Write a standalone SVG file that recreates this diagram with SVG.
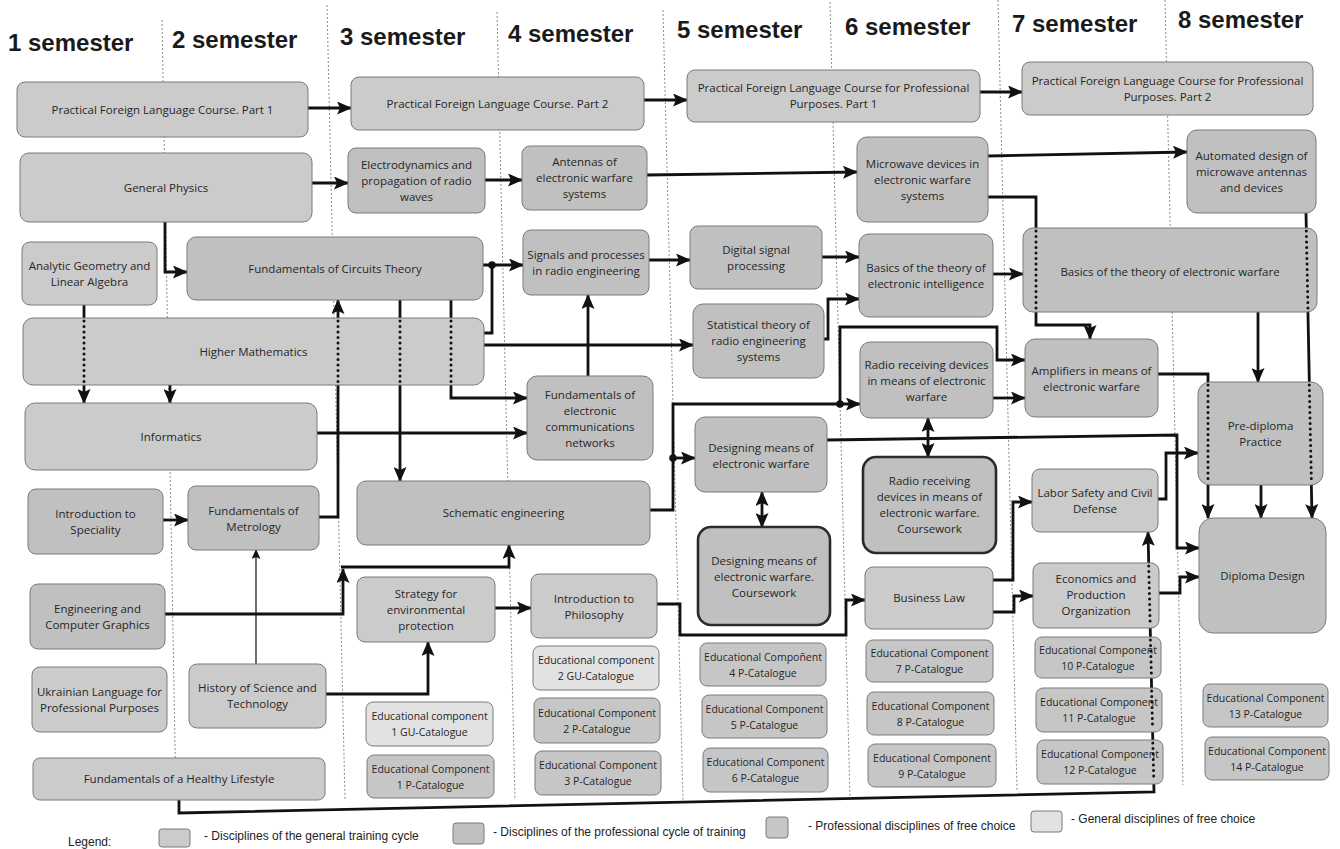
<svg xmlns="http://www.w3.org/2000/svg" width="1340" height="849" viewBox="0 0 1340 849">
<style>
.bx{stroke:#7a7a7a;stroke-width:1}
.g{fill:#cbcbcb}.p{fill:#c0c0c0}.pf{fill:#c6c6c6}.gf{fill:#e2e2e2}
.cw{stroke:#2a2a2a;stroke-width:2.6}
.t{font-family:"Open Sans","Noto Sans",sans-serif;font-size:11.5px;fill:#262626;text-anchor:middle}
.s{font-size:10.5px}
.h{font-family:"Liberation Sans",Arial,sans-serif;font-size:24px;font-weight:bold;fill:#1a1a1a}
.lg{font-family:"Liberation Sans",Arial,sans-serif;font-size:12px;fill:#222}
.c{fill:none;stroke:#111;stroke-width:2.8;stroke-linejoin:miter}
.thin{stroke-width:1.2}
.dt{fill:none;stroke:#111;stroke-width:3;stroke-linecap:round;stroke-dasharray:0 5.5}
.dv{fill:none;stroke:#8a8a8a;stroke-width:1;stroke-dasharray:2 2}
</style>
<defs>
<marker id="a" markerUnits="userSpaceOnUse" markerWidth="15" markerHeight="13" refX="14" refY="6.5" orient="auto">
<path d="M0,0 L15,6.5 L0,13 L3,6.5 z" fill="#111"/>
</marker>
<marker id="as" markerUnits="userSpaceOnUse" markerWidth="15" markerHeight="13" refX="1" refY="6.5" orient="auto">
<path d="M15,0 L0,6.5 L15,13 L12,6.5 z" fill="#111"/>
</marker>
<marker id="at" markerUnits="userSpaceOnUse" markerWidth="10" markerHeight="9" refX="9" refY="4.5" orient="auto">
<path d="M0,0 L10,4.5 L0,9 L2,4.5 z" fill="#111"/>
</marker>
</defs>
<rect width="1340" height="849" fill="#ffffff"/>

<g id="dividers">
<line class="dv" x1="162" y1="20" x2="176" y2="800"/>
<line class="dv" x1="327" y1="5" x2="345" y2="800"/>
<line class="dv" x1="497" y1="12" x2="515" y2="800"/>
<line class="dv" x1="663" y1="10" x2="683" y2="800"/>
<line class="dv" x1="830" y1="2" x2="850" y2="800"/>
<line class="dv" x1="998" y1="0" x2="1017" y2="790"/>
<line class="dv" x1="1165" y1="0" x2="1183" y2="785"/>
</g>

<g id="headers">
<text class="h" x="8" y="51">1 semester</text>
<text class="h" x="172" y="48">2 semester</text>
<text class="h" x="340" y="45">3 semester</text>
<text class="h" x="508" y="42">4 semester</text>
<text class="h" x="677" y="38">5 semester</text>
<text class="h" x="845" y="35">6 semester</text>
<text class="h" x="1012" y="32">7 semester</text>
<text class="h" x="1178" y="28">8 semester</text>
</g>

<g id="connectors">
<path class="c" marker-end="url(#a)" d="M308,108 H351"/>
<path class="c" marker-end="url(#a)" d="M644,100 H687"/>
<path class="c" marker-end="url(#a)" d="M980,92 H1022"/>
<path class="c" marker-end="url(#a)" d="M312,183 H348"/>
<path class="c" marker-end="url(#a)" d="M485,180 H522"/>
<path class="c" marker-end="url(#a)" d="M647,175 L857,172"/>
<path class="c" marker-end="url(#a)" d="M988,156 L1187,152"/>
<path class="c" marker-end="url(#a)" d="M988,197 H1036 V325 H1090 V339"/>
<path class="c" marker-end="url(#a)" d="M165,222 V272 H187"/>
<path class="c" marker-end="url(#a)" d="M483,265 H523"/>
<path class="c" d="M484,333 H492 V265"/>
<path class="c" marker-end="url(#a)" d="M484,345 H693"/>
<path class="c" marker-end="url(#a)" d="M588,376 V295"/>
<path class="c" marker-end="url(#a)" d="M451,300 V398 H527"/>
<path class="c" marker-end="url(#a)" d="M317,433 H527"/>
<path class="c" marker-end="url(#a)" d="M400,300 V481"/>
<path class="c" marker-end="url(#a)" d="M319,517 H338 V300"/>
<path class="c" marker-end="url(#a)" d="M84,305 V403"/>
<path class="c" marker-end="url(#a)" d="M170,385 V403"/>
<path class="c" marker-end="url(#a)" d="M163,520 H188"/>
<path class="c thin" marker-end="url(#at)" d="M256,664 V550"/>
<path class="c" marker-end="url(#a)" d="M165,614 H343 V569"/>
<path class="c" marker-end="url(#a)" d="M341,567 H509 V545"/>
<path class="c" marker-end="url(#a)" d="M326,694 H428 V642"/>
<path class="c" marker-end="url(#a)" d="M495,608 H531"/>
<path class="c" marker-end="url(#a)" d="M657,604 H680 V635 H846 V600 H865"/>
<path class="c" marker-end="url(#a)" d="M650,510 H673 V404 H860"/>
<path class="c" marker-end="url(#a)" d="M673,458 H695"/>
<path class="c" marker-end="url(#a)" d="M840,404 V327 H997 V360 H1025"/>
<circle cx="492" cy="265" r="3.8" fill="#111"/>
<circle cx="673" cy="458" r="3.8" fill="#111"/>
<circle cx="840" cy="404" r="3.8" fill="#111"/>
<path class="c" marker-end="url(#a)" d="M822,257 H859"/>
<path class="c" marker-end="url(#a)" d="M824,339 H828 V299 H859"/>
<path class="c" marker-end="url(#a)" d="M649,260 H690"/>
<path class="c" marker-end="url(#a)" d="M993,274 H1023"/>
<path class="c" marker-end="url(#a)" d="M993,398 H1025"/>
<path class="c" marker-start="url(#as)" marker-end="url(#a)" d="M928,418 V457"/>
<path class="c" marker-start="url(#as)" marker-end="url(#a)" d="M762,492 V527"/>
<path class="c" marker-end="url(#a)" d="M827,440 L1177,435 V548 H1199"/>
<path class="c" marker-end="url(#a)" d="M1158,499 H1166 V453 H1198"/>
<path class="c" marker-end="url(#a)" d="M993,580 H1013 V502 H1032"/>
<path class="c" marker-end="url(#a)" d="M993,612 H1014 V596 H1033"/>
<path class="c" marker-end="url(#a)" d="M1159,593 H1180 V577 H1199"/>
<path class="c" marker-end="url(#a)" d="M179,800 V813 L1154,792 L1148,532"/>
<path class="c" marker-end="url(#a)" d="M1158,374 H1208 V518"/>
<path class="c" marker-end="url(#a)" d="M1258,312 V382"/>
<path class="c" marker-end="url(#a)" d="M1306,213 L1312,518"/>
<path class="c" marker-end="url(#a)" d="M1261,485 V518"/>
</g>

<g id="pfl1"><rect class="bx g" x="17" y="82" width="291" height="55" rx="8"/><text class="t" x="162.5" y="113.5">Practical Foreign Language Course. Part 1</text></g>
<g id="pfl2"><rect class="bx g" x="351" y="77" width="293" height="53" rx="8"/><text class="t" x="497.5" y="107.5">Practical Foreign Language Course. Part 2</text></g>
<g id="pflp1"><rect class="bx g" x="687" y="70" width="293" height="52" rx="8"/><text class="t"><tspan x="833.5" y="92">Practical Foreign Language Course for Professional</tspan><tspan x="833.5" y="108">Purposes. Part 1</tspan></text></g>
<g id="pflp2"><rect class="bx g" x="1022" y="62" width="291" height="53" rx="8"/><text class="t"><tspan x="1167.5" y="84.5">Practical Foreign Language Course for Professional</tspan><tspan x="1167.5" y="100.5">Purposes. Part 2</tspan></text></g>

<g id="physics"><rect class="bx g" x="20" y="153" width="292" height="69" rx="9"/><text class="t" x="166" y="191.5">General Physics</text></g>
<g id="electro"><rect class="bx p" x="348" y="148" width="137" height="65" rx="8"/><text class="t"><tspan x="416.5" y="168.5">Electrodynamics and</tspan><tspan x="416.5" y="184.5">propagation of radio</tspan><tspan x="416.5" y="200.5">waves</tspan></text></g>
<g id="antennas"><rect class="bx p" x="522" y="146" width="125" height="64" rx="8"/><text class="t"><tspan x="584.5" y="166">Antennas of</tspan><tspan x="584.5" y="182">electronic warfare</tspan><tspan x="584.5" y="198">systems</tspan></text></g>
<g id="microwave"><rect class="bx p" x="857" y="137" width="131" height="85" rx="10"/><text class="t"><tspan x="922.5" y="167.5">Microwave devices in</tspan><tspan x="922.5" y="183.5">electronic warfare</tspan><tspan x="922.5" y="199.5">systems</tspan></text></g>
<g id="automated"><rect class="bx p" x="1187" y="130" width="129" height="83" rx="10"/><text class="t"><tspan x="1251.5" y="159.5">Automated design of</tspan><tspan x="1251.5" y="175.5">microwave antennas</tspan><tspan x="1251.5" y="191.5">and devices</tspan></text></g>

<g id="analytic"><rect class="bx g" x="22" y="242" width="135" height="63" rx="8"/><text class="t"><tspan x="89.5" y="270">Analytic Geometry and</tspan><tspan x="89.5" y="286">Linear Algebra</tspan></text></g>
<g id="circuits"><rect class="bx p" x="187" y="237" width="296" height="63" rx="9"/><text class="t" x="335" y="272.5">Fundamentals of Circuits Theory</text></g>
<g id="signals"><rect class="bx p" x="523" y="230" width="126" height="65" rx="8"/><text class="t"><tspan x="586" y="259">Signals and processes</tspan><tspan x="586" y="275">in radio engineering</tspan></text></g>
<g id="digital"><rect class="bx p" x="690" y="226" width="132" height="63" rx="8"/><text class="t"><tspan x="756" y="254">Digital signal</tspan><tspan x="756" y="270">processing</tspan></text></g>
<g id="bei"><rect class="bx p" x="859" y="234" width="134" height="83" rx="10"/><text class="t"><tspan x="926" y="272">Basics of the theory of</tspan><tspan x="926" y="288">electronic intelligence</tspan></text></g>
<g id="bew"><rect class="bx p" x="1023" y="228" width="294" height="84" rx="10"/><text class="t" x="1170" y="276">Basics of the theory of electronic warfare</text></g>

<g id="highermath"><rect class="bx g" x="23" y="318" width="461" height="67" rx="10"/><text class="t" x="253.5" y="356">Higher Mathematics</text></g>
<g id="stat"><rect class="bx p" x="693" y="304" width="131" height="74" rx="10"/><text class="t"><tspan x="758.5" y="329">Statistical theory of</tspan><tspan x="758.5" y="345">radio engineering</tspan><tspan x="758.5" y="361">systems</tspan></text></g>
<g id="radio"><rect class="bx p" x="860" y="342" width="133" height="76" rx="10"/><text class="t"><tspan x="926.5" y="368.5">Radio receiving devices</tspan><tspan x="926.5" y="384.5">in means of electronic</tspan><tspan x="926.5" y="400.5">warfare</tspan></text></g>
<g id="amplifiers"><rect class="bx p" x="1025" y="339" width="133" height="78" rx="10"/><text class="t"><tspan x="1091.5" y="374.5">Amplifiers in means of</tspan><tspan x="1091.5" y="390.5">electronic warfare</tspan></text></g>

<g id="informatics"><rect class="bx g" x="25" y="403" width="292" height="67" rx="10"/><text class="t" x="171" y="440.5">Informatics</text></g>
<g id="fecn"><rect class="bx p" x="527" y="376" width="126" height="84" rx="10"/><text class="t"><tspan x="590" y="398.5">Fundamentals of</tspan><tspan x="590" y="414.5">electronic</tspan><tspan x="590" y="430.5">communications</tspan><tspan x="590" y="446.5">networks</tspan></text></g>
<g id="designing"><rect class="bx p" x="695" y="417" width="132" height="75" rx="10"/><text class="t"><tspan x="761" y="452">Designing means of</tspan><tspan x="761" y="468">electronic warfare</tspan></text></g>
<g id="prediploma"><rect class="bx p" x="1198" y="382" width="125" height="103" rx="12"/><text class="t"><tspan x="1260.5" y="429.5">Pre-diploma</tspan><tspan x="1260.5" y="445.5">Practice</tspan></text></g>

<g id="introspec"><rect class="bx p" x="28" y="489" width="135" height="65" rx="8"/><text class="t"><tspan x="95.5" y="518">Introduction to</tspan><tspan x="95.5" y="534">Speciality</tspan></text></g>
<g id="metrology"><rect class="bx p" x="188" y="486" width="131" height="64" rx="8"/><text class="t"><tspan x="253.5" y="514.5">Fundamentals of</tspan><tspan x="253.5" y="530.5">Metrology</tspan></text></g>
<g id="schematic"><rect class="bx p" x="357" y="481" width="293" height="64" rx="9"/><text class="t" x="503.5" y="517">Schematic engineering</text></g>
<g id="designcw"><rect class="bx p cw" x="698" y="527" width="132" height="98" rx="13"/><text class="t"><tspan x="764" y="565">Designing means of</tspan><tspan x="764" y="581">electronic warfare.</tspan><tspan x="764" y="597">Coursework</tspan></text></g>
<g id="radiocw"><rect class="bx p cw" x="863" y="457" width="133" height="96" rx="13"/><text class="t"><tspan x="929.5" y="485">Radio receiving</tspan><tspan x="929.5" y="501">devices in means of</tspan><tspan x="929.5" y="517">electronic warfare.</tspan><tspan x="929.5" y="533">Coursework</tspan></text></g>
<g id="labor"><rect class="bx g" x="1032" y="469" width="126" height="63" rx="8"/><text class="t"><tspan x="1095" y="496.5">Labor Safety and Civil</tspan><tspan x="1095" y="512.5">Defense</tspan></text></g>
<g id="diploma"><rect class="bx p" x="1199" y="518" width="127" height="115" rx="14"/><text class="t" x="1262.5" y="579.5">Diploma Design</text></g>

<g id="ecg"><rect class="bx p" x="30" y="584" width="135" height="65" rx="8"/><text class="t"><tspan x="97.5" y="613">Engineering and</tspan><tspan x="97.5" y="629">Computer Graphics</tspan></text></g>
<g id="strategy"><rect class="bx g" x="357" y="577" width="138" height="65" rx="8"/><text class="t"><tspan x="426" y="597.5">Strategy for</tspan><tspan x="426" y="613.5">environmental</tspan><tspan x="426" y="629.5">protection</tspan></text></g>
<g id="philosophy"><rect class="bx g" x="531" y="574" width="126" height="64" rx="8"/><text class="t"><tspan x="594" y="602.5">Introduction to</tspan><tspan x="594" y="618.5">Philosophy</tspan></text></g>
<g id="business"><rect class="bx g" x="865" y="567" width="128" height="62" rx="8"/><text class="t" x="929" y="602">Business Law</text></g>
<g id="economics"><rect class="bx g" x="1033" y="563" width="126" height="65" rx="8"/><text class="t"><tspan x="1096" y="583">Economics and</tspan><tspan x="1096" y="599">Production</tspan><tspan x="1096" y="615">Organization</tspan></text></g>

<g id="ukrainian"><rect class="bx g" x="32" y="667" width="135" height="65" rx="8"/><text class="t"><tspan x="99.5" y="696">Ukrainian Language for</tspan><tspan x="99.5" y="712">Professional Purposes</tspan></text></g>
<g id="history"><rect class="bx g" x="189" y="664" width="137" height="64" rx="8"/><text class="t"><tspan x="257.5" y="692">History of Science and</tspan><tspan x="257.5" y="708">Technology</tspan></text></g>
<g id="healthy"><rect class="bx g" x="33" y="758" width="292" height="42" rx="7"/><text class="t" x="179" y="783">Fundamentals of a Healthy Lifestyle</text></g>

<g id="ec1gu"><rect class="bx gf" x="366" y="702" width="127" height="44" rx="7"/><text class="t s"><tspan x="429.5" y="720">Educational component</tspan><tspan x="429.5" y="736">1 GU-Catalogue</tspan></text></g>
<g id="ec1p"><rect class="bx pf" x="367" y="755" width="127" height="43" rx="7"/><text class="t s"><tspan x="430.5" y="772.5">Educational Component</tspan><tspan x="430.5" y="788.5">1 P-Catalogue</tspan></text></g>
<g id="ec2gu"><rect class="bx gf" x="533" y="646" width="126" height="44" rx="7"/><text class="t s"><tspan x="596" y="664">Educational component</tspan><tspan x="596" y="680">2 GU-Catalogue</tspan></text></g>
<g id="ec2p"><rect class="bx pf" x="534" y="698" width="126" height="45" rx="7"/><text class="t s"><tspan x="597" y="716.5">Educational Component</tspan><tspan x="597" y="732.5">2 P-Catalogue</tspan></text></g>
<g id="ec3p"><rect class="bx pf" x="535" y="751" width="126" height="44" rx="7"/><text class="t s"><tspan x="598" y="769">Educational Component</tspan><tspan x="598" y="785">3 P-Catalogue</tspan></text></g>
<g id="ec4p"><rect class="bx pf" x="700" y="643" width="126" height="43" rx="7"/><text class="t s"><tspan x="763" y="660.5">Educational Compoñent</tspan><tspan x="763" y="676.5">4 P-Catalogue</tspan></text></g>
<g id="ec5p"><rect class="bx pf" x="702" y="695" width="125" height="43" rx="7"/><text class="t s"><tspan x="764.5" y="712.5">Educational Component</tspan><tspan x="764.5" y="728.5">5 P-Catalogue</tspan></text></g>
<g id="ec6p"><rect class="bx pf" x="703" y="748" width="125" height="44" rx="7"/><text class="t s"><tspan x="765.5" y="766">Educational Component</tspan><tspan x="765.5" y="782">6 P-Catalogue</tspan></text></g>
<g id="ec7p"><rect class="bx pf" x="866" y="640" width="127" height="42" rx="7"/><text class="t s"><tspan x="929.5" y="657">Educational Component</tspan><tspan x="929.5" y="673">7 P-Catalogue</tspan></text></g>
<g id="ec8p"><rect class="bx pf" x="867" y="692" width="127" height="43" rx="7"/><text class="t s"><tspan x="930.5" y="709.5">Educational Component</tspan><tspan x="930.5" y="725.5">8 P-Catalogue</tspan></text></g>
<g id="ec9p"><rect class="bx pf" x="868" y="744" width="128" height="43" rx="7"/><text class="t s"><tspan x="932" y="761.5">Educational Component</tspan><tspan x="932" y="777.5">9 P-Catalogue</tspan></text></g>
<g id="ec10p"><rect class="bx pf" x="1035" y="637" width="126" height="41" rx="7"/><text class="t s"><tspan x="1098" y="653.5">Educational Component</tspan><tspan x="1098" y="669.5">10 P-Catalogue</tspan></text></g>
<g id="ec11p"><rect class="bx pf" x="1036" y="688" width="126" height="44" rx="7"/><text class="t s"><tspan x="1099" y="706">Educational Component</tspan><tspan x="1099" y="722">11 P-Catalogue</tspan></text></g>
<g id="ec12p"><rect class="bx pf" x="1037" y="740" width="126" height="44" rx="7"/><text class="t s"><tspan x="1100" y="758">Educational Component</tspan><tspan x="1100" y="774">12 P-Catalogue</tspan></text></g>
<g id="ec13p"><rect class="bx pf" x="1203" y="684" width="125" height="43" rx="7"/><text class="t s"><tspan x="1265.5" y="701.5">Educational Component</tspan><tspan x="1265.5" y="717.5">13 P-Catalogue</tspan></text></g>
<g id="ec14p"><rect class="bx pf" x="1205" y="737" width="124" height="43" rx="7"/><text class="t s"><tspan x="1267" y="754.5">Educational Component</tspan><tspan x="1267" y="770.5">14 P-Catalogue</tspan></text></g>

<g id="passthrough">
<line class="dt" x1="84" y1="321" x2="84" y2="382"/>
<line class="dt" x1="338" y1="321" x2="338" y2="382"/>
<line class="dt" x1="400" y1="321" x2="400" y2="382"/>
<line class="dt" x1="451" y1="321" x2="451" y2="382"/>
<line class="dt" x1="1036" y1="231" x2="1036" y2="309"/>
<line class="dt" x1="1306.3" y1="231" x2="1308" y2="309"/>
<line class="dt" x1="1309.3" y1="385" x2="1311.4" y2="482"/>
<line class="dt" x1="1208" y1="385" x2="1208" y2="482"/>
<line class="dt" x1="1148.7" y1="566" x2="1150.2" y2="625"/>
<line class="dt" x1="1150.4" y1="640" x2="1151.4" y2="675"/>
<line class="dt" x1="1151.6" y1="691" x2="1152.6" y2="729"/>
<line class="dt" x1="1152.8" y1="743" x2="1153.8" y2="781"/>
</g>

<g id="legend">
<text class="lg" x="68" y="846">Legend:</text>
<rect class="bx g" x="159" y="829" width="31" height="18" rx="3"/>
<text class="lg" x="204" y="840">- Disciplines of the general training cycle</text>
<rect class="bx p" x="453" y="823" width="31" height="21" rx="3"/>
<text class="lg" x="493" y="836">- Disciplines of the professional cycle of training</text>
<rect class="bx pf" x="766" y="817" width="22" height="21" rx="3"/>
<text class="lg" x="808" y="830">- Professional disciplines of free choice</text>
<rect class="bx gf" x="1031" y="811" width="31" height="21" rx="3"/>
<text class="lg" x="1071" y="823">- General disciplines of free choice</text>
</g>
</svg>
